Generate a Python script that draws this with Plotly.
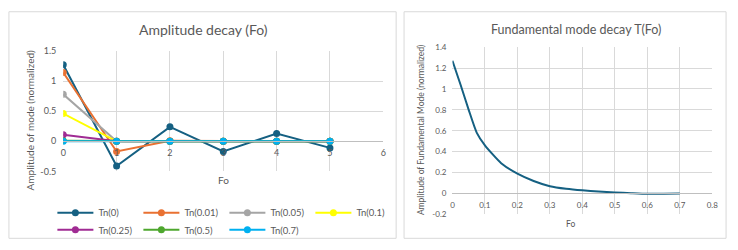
import plotly.graph_objects as go

W, H = 738, 250

# ---------------- data ----------------
modes = [0, 1, 2, 3, 4, 5]
series_names = ["Tn(0)", "Tn(0.01)", "Tn(0.05)", "Tn(0.1)", "Tn(0.25)", "Tn(0.5)", "Tn(0.7)"]
tn_0 = [1.27, -0.41, 0.24, -0.17, 0.13, -0.11]
tn_001 = [1.14, -0.17, 0.01, 0.0, 0.0, 0.0]
tn_005 = [0.78, 0.0, 0.0, 0.0, 0.0, 0.0]
tn_01 = [0.46, 0.0, 0.0, 0.0, 0.0, 0.0]
tn_025 = [0.11, 0.0, 0.0, 0.0, 0.0, 0.0]
tn_05 = [0.01, 0.0, 0.0, 0.0, 0.0, 0.0]
tn_07 = [0.0, 0.0, 0.0, 0.0, 0.0, 0.0]
series_values = [tn_0, tn_001, tn_005, tn_01, tn_025, tn_05, tn_07]
series_colors = ["#156082", "#E97132", "#A5A5A5", "#FFFF00", "#A02B93", "#4EA72E", "#00B0F0"]

fo = [0, 0.025, 0.05, 0.075, 0.1, 0.15, 0.2, 0.25, 0.3, 0.35, 0.4, 0.45, 0.5, 0.55, 0.6, 0.65, 0.7]
fundamental = [1.27, 1.04, 0.80, 0.58, 0.46, 0.29, 0.19, 0.12, 0.07, 0.045, 0.03, 0.02, 0.01, 0.003, -0.003, -0.002, 0.0]

left_xticks = [0, 1, 2, 3, 4, 5, 6]
left_yticks = [-0.5, 0, 0.5, 1, 1.5]
right_xticks = [0, 0.1, 0.2, 0.3, 0.4, 0.5, 0.6, 0.7, 0.8]
right_yticks = [-0.2, 0, 0.2, 0.4, 0.6, 0.8, 1, 1.2, 1.4]

# ---------------- helpers ----------------
def px_x(p):
    return p / W

def px_y(p):
    return 1 - p / H

FONT = "Lato, Roboto, sans-serif"
TXT = "#595959"
GRID = "#D9D9D9"

fig = go.Figure()

for i, (name, vals, col) in enumerate(zip(series_names, series_values, series_colors)):
    fig.add_trace(go.Scatter(
        x=modes, y=vals, name=name, mode="lines+markers",
        line=dict(color=col, width=2), marker=dict(color=col, size=7),
        xaxis="x", yaxis="y",
        legend="legend" if i < 4 else "legend2",
    ))

fig.add_trace(go.Scatter(
    x=fo, y=fundamental, mode="lines", line=dict(color="#156082", width=2, shape="spline", smoothing=0.6),
    xaxis="x2", yaxis="y2", showlegend=False,
))

# plot areas
L_x0, L_x1, L_y0, L_y1 = 61, 385, 47, 173
R_x0, R_x1, R_y0, R_y1 = 455, 718, 43, 218

left_zero = L_y1 - (0 - (-0.5)) / 2.0 * (L_y1 - L_y0)
right_zero = R_y1 - (0 - (-0.2)) / 1.6 * (R_y1 - R_y0)

legend_common = dict(orientation="h", xanchor="left", yanchor="top",
                     entrywidth=35, entrywidthmode="pixels", font=dict(size=9.5, color=TXT),
                     bgcolor="rgba(0,0,0,0)", tracegroupgap=0, itemwidth=36)

fig.update_layout(
    width=W, height=H,
    margin=dict(l=0, r=0, t=0, b=0),
    paper_bgcolor="white", plot_bgcolor="white",
    font=dict(family=FONT, color=TXT, size=9),
    xaxis=dict(domain=[px_x(L_x0), px_x(L_x1)], range=[0, 6], tickvals=left_xticks,
               showgrid=True, gridcolor=GRID, gridwidth=1, zeroline=False,
               anchor="free", position=px_y(left_zero), showline=True, linecolor="#BFBFBF",
               ticks="", ticklabelstandoff=3, tickfont=dict(size=9, color=TXT), fixedrange=True),
    yaxis=dict(domain=[px_y(L_y1), px_y(L_y0)], range=[-0.5, 1.5], tickvals=left_yticks,
               ticktext=[str(v) for v in left_yticks],
               showgrid=True, gridcolor=GRID, zeroline=False, anchor="x",
               ticks="", ticklabelstandoff=6, tickfont=dict(size=9, color=TXT), fixedrange=True),
    xaxis2=dict(domain=[px_x(R_x0), px_x(R_x1)], range=[0, 0.8], tickvals=right_xticks,
                ticktext=[("%g" % v) for v in right_xticks],
                showgrid=True, gridcolor=GRID, zeroline=False,
                anchor="free", position=px_y(right_zero), showline=True, linecolor="#BFBFBF",
                ticks="", ticklabelstandoff=4, tickfont=dict(size=8, color=TXT), fixedrange=True),
    yaxis2=dict(domain=[px_y(R_y1), px_y(R_y0)], range=[-0.2, 1.4], tickvals=right_yticks,
                ticktext=[("%g" % v) for v in right_yticks],
                showgrid=True, gridcolor=GRID, zeroline=False, anchor="x2",
                ticks="", ticklabelstandoff=5, tickfont=dict(size=8, color=TXT), fixedrange=True),
    legend=dict(x=px_x(50), y=px_y(201), **legend_common),
    legend2=dict(x=px_x(50), y=px_y(219), **legend_common),
    showlegend=True,
)

shapes = [
    dict(type="rect", xref="paper", yref="paper", x0=px_x(6), x1=px_x(398), y0=px_y(243), y1=px_y(6),
         line=dict(color="#D9D9D9", width=1), fillcolor="rgba(0,0,0,0)", layer="below"),
    dict(type="rect", xref="paper", yref="paper", x0=px_x(406), x1=px_x(732), y0=px_y(243), y1=px_y(6),
         line=dict(color="#D9D9D9", width=1), fillcolor="rgba(0,0,0,0)", layer="below"),
]
fig.update_layout(shapes=shapes)

annotations = [
    dict(text="Amplitude decay (Fo)", x=px_x(203), y=px_y(25), font=dict(size=14, color=TXT)),
    dict(text="Fundamental mode decay T(Fo)", x=px_x(580), y=px_y(25), font=dict(size=12.5, color=TXT)),
    dict(text="Fo", x=px_x(223), y=px_y(182), font=dict(size=10, color=TXT)),
    dict(text="Fo", x=px_x(575), y=px_y(228), font=dict(size=8.5, color=TXT)),
    dict(text="Amplitude of mode (normalized)", x=px_x(27), y=px_y(120), textangle=-90,
         font=dict(size=10, color=TXT)),
    dict(text="Amplitude of Fundamental Mode (normalized)", x=px_x(423), y=px_y(130), textangle=-90,
         font=dict(size=8.5, color=TXT)),
]
for a in annotations:
    a.update(xref="paper", yref="paper", showarrow=False, xanchor="center", yanchor="middle")
fig.update_layout(annotations=annotations)

fig.write_html("out.html")
